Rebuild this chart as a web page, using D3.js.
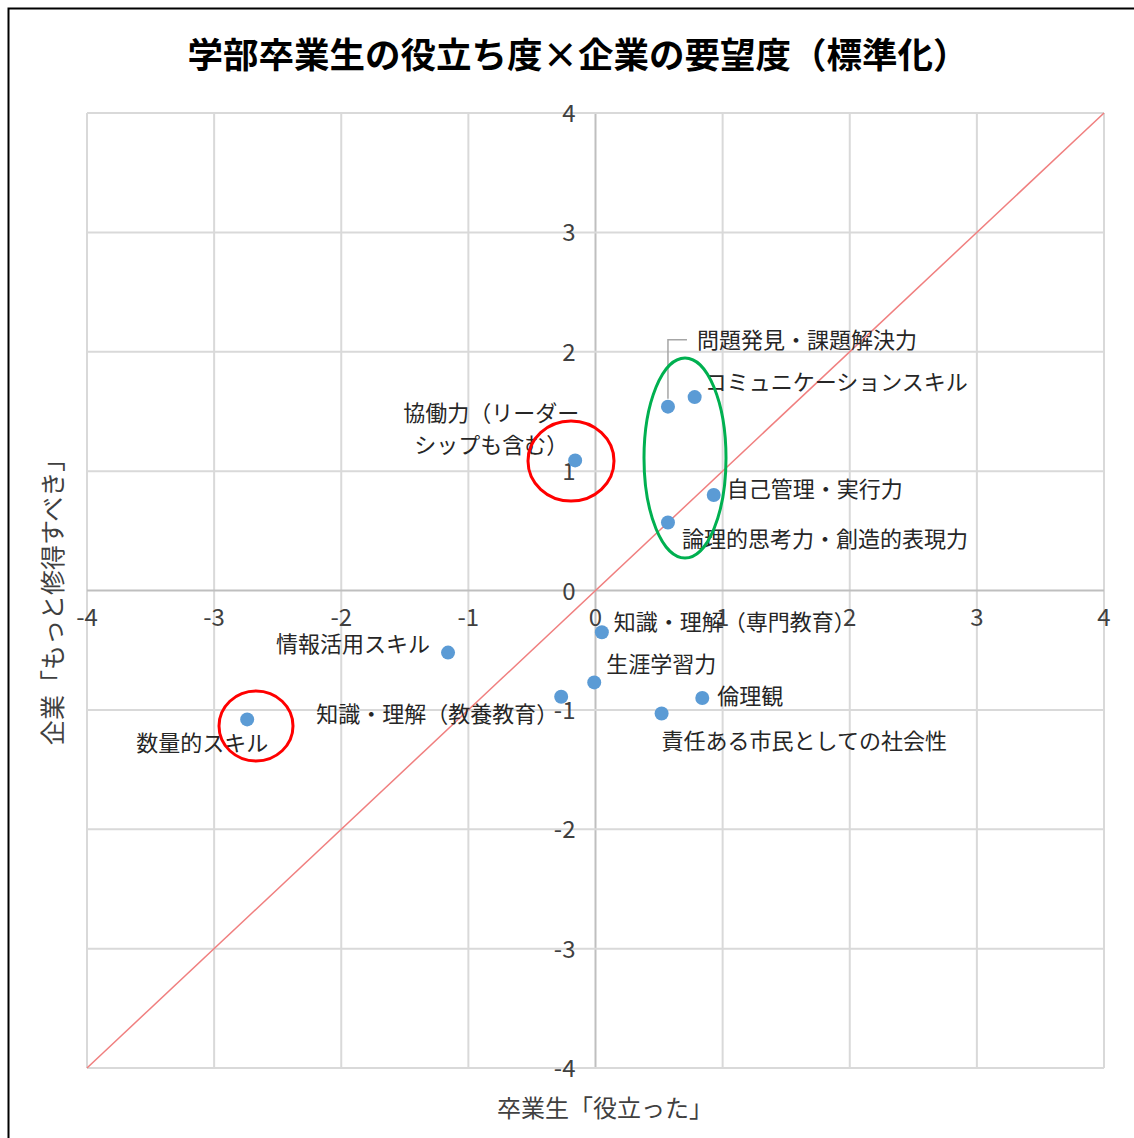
<!DOCTYPE html>
<html><head><meta charset="utf-8">
<script src="https://cdn.jsdelivr.net/npm/d3@7"></script>
<style>body{margin:0;background:#fff}svg{display:block}text{font-family:"Noto Sans CJK JP","Noto Sans",sans-serif}</style>
</head><body>
<script>
const names = ["問題発見・課題解決力","コミュニケーションスキル","協働力（リーダー\nシップも含む）","自己管理・実行力","論理的思考力・創造的表現力","知識・理解（専門教育）","情報活用スキル","生涯学習力","知識・理解（教養教育）","倫理観","責任ある市民としての社会性","数量的スキル"];
const xValues = [0.57, 0.78, -0.16, 0.93, 0.57, 0.05, -1.16, -0.01, -0.27, 0.84, 0.52, -2.74];
const yValues = [1.54, 1.62, 1.09, 0.80, 0.57, -0.35, -0.52, -0.77, -0.89, -0.90, -1.03, -1.08];
const ticks = [-4,-3,-2,-1,0,1,2,3,4];
const title = "学部卒業生の役立ち度×企業の要望度（標準化）";
const xTitle = "卒業生「役立った」";
const yTitle = "企業「もっと修得すべき」";

// label placement (styling, pixel offsets from the point)
const labelPlace = [
  {dx:29, dy:-67, anchor:"start", leader:true},
  {dx:10, dy:-15, anchor:"start"},
  {dx:-84, dy:-47, anchor:"middle"},
  {dx:13, dy:-6, anchor:"start"},
  {dx:14, dy:17, anchor:"start"},
  {dx:12, dy:-10, anchor:"start"},
  {dx:-18, dy:-9, anchor:"end"},
  {dx:12, dy:-18, anchor:"start"},
  {dx:-3, dy:17, anchor:"end"},
  {dx:15, dy:-2, anchor:"start"},
  {dx:0, dy:28, anchor:"start"},
  {dx:21, dy:24, anchor:"end"}
];

const W = 1134, H = 1138;
const svg = d3.select("body").append("svg").attr("width", W).attr("height", H);
svg.append("rect").attr("x",8.5).attr("y",8.5).attr("width",W-6).attr("height",H).attr("fill","#fff").attr("stroke","#000").attr("stroke-width",2);

const x = d3.scaleLinear().domain([-4,4]).range([87,1104]);
const y = d3.scaleLinear().domain([-4,4]).range([1068,113]);

svg.append("text").attr("x",578).attr("y",68).attr("text-anchor","middle")
  .attr("font-size",35.5).attr("font-weight",700).attr("fill","#000").text(title);

const g = svg.append("g");
// grid
g.selectAll(".vg").data(ticks).join("line")
  .attr("x1",d=>x(d)).attr("x2",d=>x(d)).attr("y1",y(4)).attr("y2",y(-4))
  .attr("stroke",d=>d===0?"#bfbfbf":"#d9d9d9").attr("stroke-width",2);
g.selectAll(".hg").data(ticks).join("line")
  .attr("y1",d=>y(d)).attr("y2",d=>y(d)).attr("x1",x(-4)).attr("x2",x(4))
  .attr("stroke",d=>d===0?"#bfbfbf":"#d9d9d9").attr("stroke-width",2);

// tick labels
g.selectAll(".xt").data(ticks).join("text")
  .attr("x",d=>x(d)).attr("y",y(0)+35).attr("text-anchor","middle")
  .attr("font-size",24).attr("fill","#404040").text(d=>d);
g.selectAll(".yt").data(ticks).join("text")
  .attr("x",x(0)-20).attr("y",d=>y(d)+9).attr("text-anchor","end")
  .attr("font-size",24).attr("fill","#404040").text(d=>d);

// diagonal
g.append("line").attr("x1",x(-4)).attr("y1",y(-4)).attr("x2",x(4)).attr("y2",y(4))
  .attr("stroke","#f07f7f").attr("stroke-width",1.5);

// axis titles
svg.append("text").attr("x",605).attr("y",1117).attr("text-anchor","middle")
  .attr("font-size",24).attr("fill","#404040").text(xTitle);
svg.append("text").attr("transform","translate(62,596) rotate(-90)").attr("text-anchor","middle")
  .attr("font-size",25).attr("fill","#404040").text(yTitle);

const pts = names.map((n,i)=>({n, vx:xValues[i], vy:yValues[i], p:labelPlace[i]}));

// leader line
pts.filter(d=>d.p.leader).forEach(d=>{
  g.append("path").attr("d",`M${x(d.vx)},${y(d.vy)-8} V${y(d.vy)+d.p.dy} H${x(d.vx)+d.p.dx-10}`)
   .attr("fill","none").attr("stroke","#a6a6a6").attr("stroke-width",1.5);
});

// points
g.selectAll(".pt").data(pts).join("circle")
  .attr("cx",d=>x(d.vx)).attr("cy",d=>y(d.vy)).attr("r",7).attr("fill","#5b9bd5");

// labels
const lab = g.selectAll(".lb").data(pts).join("text")
  .attr("x",d=>x(d.vx)+d.p.dx).attr("y",d=>y(d.vy)+d.p.dy+8)
  .attr("text-anchor",d=>d.p.anchor).attr("font-size",22).attr("fill","#262626");
lab.each(function(d){
  const parts = d.n.split("\n");
  const t = d3.select(this);
  parts.forEach((s,k)=>t.append("tspan").attr("x",x(d.vx)+d.p.dx).attr("dy",k===0?0:32).text(s));
});

// highlight ellipses
g.append("ellipse").attr("cx",571).attr("cy",461).attr("rx",43).attr("ry",40)
  .attr("fill","none").attr("stroke","#ff0000").attr("stroke-width",3);
g.append("ellipse").attr("cx",256).attr("cy",726).attr("rx",37).attr("ry",35)
  .attr("fill","none").attr("stroke","#ff0000").attr("stroke-width",3);
g.append("ellipse").attr("cx",685).attr("cy",458).attr("rx",41).attr("ry",100)
  .attr("fill","none").attr("stroke","#00b050").attr("stroke-width",3);
</script>
</body></html>
